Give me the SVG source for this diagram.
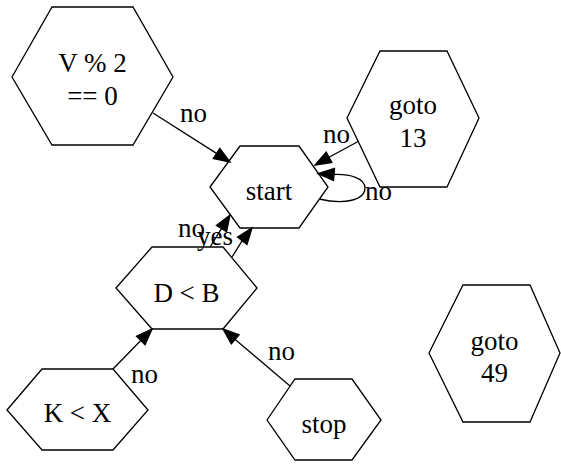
<svg xmlns="http://www.w3.org/2000/svg" width="561" height="466" viewBox="0 0 561 466">
<style>
.n{fill:none;stroke:#000;stroke-width:1.3}
.t{font-size:27px;fill:#000;text-anchor:middle}
.l{font-size:27px;fill:#000}
.e{fill:none;stroke:#000;stroke-width:1.3}
.a{fill:#000;stroke:#000;stroke-width:1.3}
</style>
<rect width="561" height="466" fill="#fff"/>
<g font-family="Liberation Serif, Times New Roman, serif">
<g id="node-v2">
<polygon class="n" points="12,77 52,7 133,7 173,77 133,145 52,145"/>
<text class="t" x="92.5" y="72">V % 2</text>
<text class="t" x="92.5" y="105">== 0</text>
</g>
<g id="node-start">
<polygon class="n" points="210,187 240,146 299,146 328,187 299,228 240,228"/>
<text class="t" x="269" y="200">start</text>
</g>
<g id="node-goto13">
<polygon class="n" points="347,118 380,51 447,51 479,118 447,187 380,187"/>
<text class="t" x="413" y="114">goto</text>
<text class="t" x="413" y="147">13</text>
</g>
<g id="node-goto49">
<polygon class="n" points="429,353 463,285 530,285 560,353 530,422 463,422"/>
<text class="t" x="494.5" y="350">goto</text>
<text class="t" x="494.5" y="382">49</text>
</g>
<g id="node-db">
<polygon class="n" points="116,288 152,247 223,247 257,288 223,329 152,329"/>
<text class="t" x="186.5" y="302">D &lt; B</text>
</g>
<g id="node-kx">
<polygon class="n" points="7,410 42,369 113,369 148,410 113,450 42,450"/>
<text class="t" x="77.5" y="422">K &lt; X</text>
</g>
<g id="node-stop">
<polygon class="n" points="267,420 295,379 352,379 381,420 352,460 295,460"/>
<text class="t" x="324" y="433">stop</text>
</g>
<g id="edges">
<line class="e" x1="153" y1="113" x2="216.5" y2="153.4"/>
<polygon class="a" points="213.3,158.5 219.8,148.4 230,162"/>
<text class="l" x="180" y="122">no</text>

<line class="e" x1="359" y1="141" x2="329" y2="157.3"/>
<polygon class="a" points="326.2,152.1 331.9,162.6 315,165"/>
<text class="l" x="323" y="143">no</text>

<path class="e" d="M319,199 C345,205 365,200 365,188 C365,178 350,174 334,174.5"/>
<polygon class="a" points="334.5,168.5 333.5,180.5 318,173.5"/>
<text class="l" x="365" y="200">no</text>

<line class="e" x1="210" y1="247" x2="221.5" y2="228.6"/>
<polygon class="a" points="226.6,231.8 216.4,225.4 230,215"/>
<text class="l" x="178" y="237">no</text>

<line class="e" x1="232" y1="257" x2="242.3" y2="240.7"/>
<polygon class="a" points="247,244.4 237.5,237 252,228"/>
<text class="l" x="197" y="245">yes</text>

<line class="e" x1="113" y1="369" x2="140.8" y2="340.5"/>
<polygon class="a" points="145.1,344.7 136.5,336.3 152,329"/>
<text class="l" x="131" y="383">no</text>

<line class="e" x1="290" y1="386" x2="235.2" y2="339.4"/>
<polygon class="a" points="239.1,334.8 231.3,343.9 223,329"/>
<text class="l" x="268" y="360">no</text>
</g>
</g>
</svg>
